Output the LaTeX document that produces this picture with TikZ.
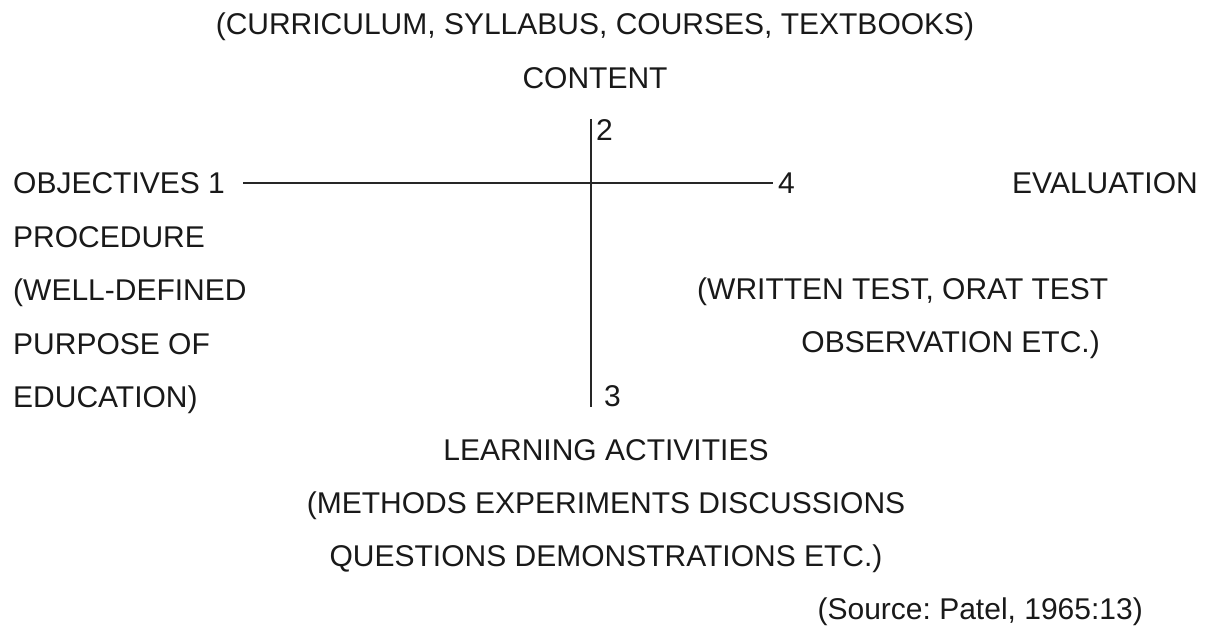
\documentclass[tikz,border=0pt]{standalone}
\usepackage{fontspec}
\setmainfont{Liberation Sans}
\usepackage{xcolor}
\usetikzlibrary{positioning}
\frenchspacing

\begin{document}
\begin{tikzpicture}[
    x=1pt, y=1pt,
    txt/.style={
        inner sep=0pt,
        text=black!90,
        text height=22pt,
        text depth=0pt,
        font=\fontsize{30}{36}\selectfont
    },
    axis/.style={
        draw=black!85,
        line width=1.6pt
    }
]
\useasboundingbox (0,0) rectangle (1215,627);

% Top: content
\node[txt] (cur) at (595,603) {(CURRICULUM, SYLLABUS, COURSES, TEXTBOOKS)};
\node[txt, below=31pt of cur] (cont) {CONTENT};

% Left: objectives
\node[txt, anchor=west] (obj) at (13,444) {OBJECTIVES 1};
\node[txt, below right=31pt and 0pt of obj.south west] (proc) {PROCEDURE};
\node[txt, below right=31pt and 0pt of proc.south west] (well) {(WELL-DEFINED};
\node[txt, below right=31pt and 0pt of well.south west] (purp) {PURPOSE OF};
\node[txt, below right=31pt and 0pt of purp.south west] (educ) {EDUCATION)};

% Right: evaluation
\node[txt, anchor=east] (eval) at (1198,444) {EVALUATION};
\node[txt, anchor=west] (writ) at (697,338) {(WRITTEN TEST, ORAT TEST};
\node[txt, anchor=east] (obs) at (1100,285) {OBSERVATION ETC.)};

% Numbers on the cross
\node[txt, anchor=west] (n2) at (596,497) {2};
\node[txt, anchor=west] (n3) at (604,231) {3};
\node[txt, anchor=west] (n4) at (778,444) {4};
\coordinate (cross) at (591,444);

% Bottom: learning activities
\node[txt] (learn) at (606,178) {LEARNING ACTIVITIES};
\node[txt, below=31pt of learn] (meth) {(METHODS EXPERIMENTS DISCUSSIONS};
\node[txt, below=31pt of meth] (ques) {QUESTIONS DEMONSTRATIONS ETC.)};
\node[txt, anchor=east] (src) at (1143,19) {(Source: Patel, 1965:13)};

% Lines
\draw[axis] ([xshift=18pt]obj.east) -- ([xshift=-5pt]n4.west);
\draw[axis] (cross |- n2.north) -- (cross |- n3.south);

\end{tikzpicture}
\end{document}
